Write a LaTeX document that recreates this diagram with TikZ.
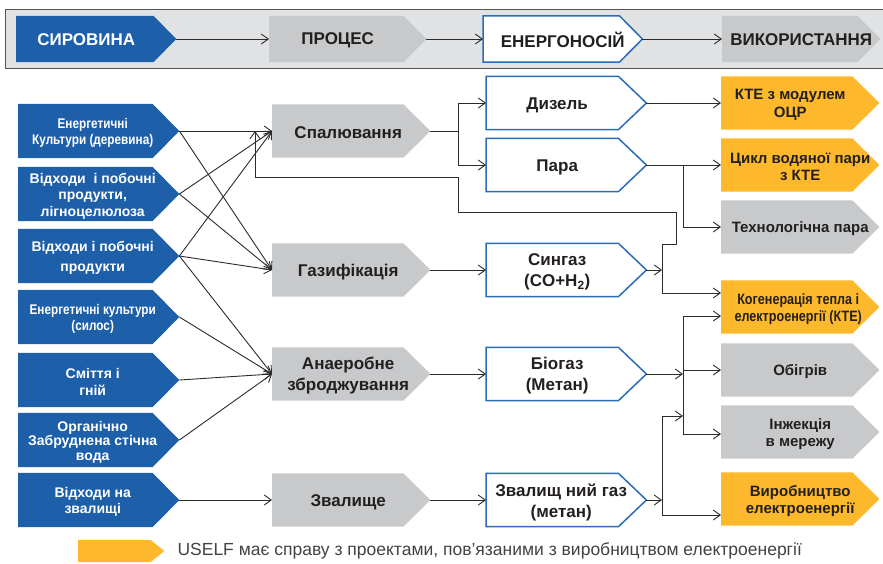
\documentclass[tikz,border=0pt]{standalone}
\usepackage{fontspec}
\setmainfont{Liberation Sans}
\newfontfamily\condfont[FakeStretch=0.84]{Liberation Sans}
\usetikzlibrary{arrows.meta,calc,backgrounds}

\definecolor{rawblue}{HTML}{1E5FAA}
\definecolor{procgray}{HTML}{C8C9CB}
\definecolor{carrblue}{HTML}{2A6CB8}
\definecolor{elecyellow}{HTML}{FDB92B}
\definecolor{headbg}{HTML}{E1E2E4}
\definecolor{headframe}{HTML}{555555}
\definecolor{inkdark}{HTML}{231F20}
\definecolor{wire}{HTML}{2B2B2B}

% outline of an arrow-tag: flat left side, pointed right side
\newcommand\tagoutline[3]{%
  \path[#3] (#1.north west) -- ($(#1.north east)+(-#2,0)$) -- (#1.east)
    -- ($(#1.south east)+(-#2,0)$) -- (#1.south west) -- cycle;}

\tikzset{
  tag/.style={rectangle, inner sep=0pt, anchor=west},
  srcbox/.style={tag, minimum width=161pt, minimum height=54pt},
  procbox/.style={tag, minimum width=158pt, minimum height=53pt},
  carrbox/.style={tag, minimum width=160pt, minimum height=53pt},
  endbox/.style={tag, minimum width=158pt, minimum height=53pt},
  hdrbox/.style={tag, minimum height=46pt},
  lbl/.style={inner sep=0pt, align=center, text=inkdark, yshift=-2pt},
  srclbl/.style={lbl, text=white, xshift=-6pt, font=\bfseries\fontsize{14}{16.5}\selectfont},
  proclbl/.style={lbl, xshift=-3pt, font=\bfseries\fontsize{17}{21}\selectfont},
  carrlbl/.style={lbl, xshift=-9pt, font=\bfseries\fontsize{17}{21}\selectfont},
  endlbl/.style={lbl, font=\bfseries\fontsize{15}{17.5}\selectfont},
  hdrlbl/.style={lbl, yshift=1pt, font=\bfseries\fontsize{17}{20}\selectfont},
  bluefill/.style={fill=rawblue},
  grayfill/.style={fill=procgray},
  yellowfill/.style={fill=elecyellow},
  carrfill/.style={fill=white, draw=carrblue, line width=1.5pt, line join=miter},
  flow/.style={draw=wire, line width=0.9pt, -{Straight Barb[length=7pt,width=10pt]}},
  pipe/.style={draw=wire, line width=0.9pt}
}

\begin{document}
\begin{tikzpicture}[x=1pt,y=-1pt]
\useasboundingbox (0,0) rectangle (883,563);

% header strip
\node[hdrbox, minimum width=160pt, label={[hdrlbl, name=h1t, text=white, xshift=-10pt]center:СИРОВИНА}] (h1) at (16,39) {};
\node[hdrbox, minimum width=157pt, label={[hdrlbl, name=h2t, xshift=-10pt]center:ПРОЦЕС}] (h2) at (269,39) {};
\node[hdrbox, minimum width=159pt, label={[hdrlbl, name=h3t]center:ЕНЕРГОНОСІЙ}] (h3) at (483,39) {};
\node[hdrbox, minimum width=158pt, label={[hdrlbl, name=h4t]center:ВИКОРИСТАННЯ}] (h4) at (722,39) {};
\draw[flow] (h1.east) -- (h2.west);
\draw[flow] (h2.east) -- (h3.west);
\draw[flow] (h3.east) -- (h4.west);

% raw materials
\node[srcbox, label={[srclbl, name=s1t]center:{\condfont Енергетичні\\ \condfont Культури (деревина)}}] (s1) at (18,131) {};
\node[srcbox, label={[srclbl, name=s2t]center:{Відходи \ і побочні\\ продукти,\\ лігноцелюлоза}}] (s2) at (18,194) {};
\node[srcbox, label={[srclbl, name=s3t, font=\bfseries\fontsize{14}{20}\selectfont]center:{Відходи і побочні\\ продукти}}] (s3) at (18,256) {};
\node[srcbox, label={[srclbl, name=s4t]center:{\condfont Енергетичні культури\\ \condfont (силос)}}] (s4) at (18,317) {};
\node[srcbox, label={[srclbl, name=s5t]center:{Сміття і\\ гній}}] (s5) at (18,380) {};
\node[srcbox, label={[srclbl, name=s6t, font=\bfseries\fontsize{14}{14.5}\selectfont]center:{Органічно\\ Забруднена стічна\\ вода}}] (s6) at (18,440) {};
\node[srcbox, label={[srclbl, name=s7t]center:{Відходи на\\ звалищі}}] (s7) at (18,500) {};

% processes
\node[procbox, label={[proclbl, name=p1t]center:Спалювання}] (p1) at (272,131) {};
\node[procbox, label={[proclbl, name=p2t]center:Газифікація}] (p2) at (272,270) {};
\node[procbox, label={[proclbl, name=p3t]center:{Анаеробне\\ зброджування}}] (p3) at (272,374) {};
\node[procbox, label={[proclbl, name=p4t]center:Звалище}] (p4) at (272,500) {};

% energy carriers
\node[carrbox, label={[carrlbl, name=c1t]center:Дизель}] (c1) at (486,103) {};
\node[carrbox, label={[carrlbl, name=c2t]center:Пара}] (c2) at (486,165) {};
\node[carrbox, label={[carrlbl, name=c3t]center:{Сингаз\\ (CO+H\textsubscript{2})}}] (c3) at (486,270) {};
\node[carrbox, label={[carrlbl, name=c4t]center:{Біогаз\\ (Метан)}}] (c4) at (486,374) {};
\node[carrbox, label={[carrlbl, name=c5t, xshift=4pt]center:{Звалищ ний газ\\ (метан)}}] (c5) at (486,500) {};

% uses
\node[endbox, label={[endlbl, name=u1t, xshift=-10pt]center:{КТЕ з модулем\\ ОЦР}}] (u1) at (721,103) {};
\node[endbox, label={[endlbl, name=u2t]center:{Цикл водяної пари\\ з КТЕ}}] (u2) at (721,165) {};
\node[endbox, label={[endlbl, name=u3t]center:Технологічна пара}] (u3) at (721,227) {};
\node[endbox, label={[endlbl, name=u4t, xshift=-2pt]center:{\condfont Когенерація тепла і\\ \condfont електроенергії (КТЕ)}}] (u4) at (721,307) {};
\node[endbox, label={[endlbl, name=u5t]center:Обігрів}] (u5) at (721,370) {};
\node[endbox, label={[endlbl, name=u6t]center:{Інжекція\\ в мережу}}] (u6) at (721,432) {};
\node[endbox, label={[endlbl, name=u7t]center:{Виробництво\\ електроенергії}}] (u7) at (721,499) {};

% legend
\node[tag, minimum width=86pt, minimum height=22pt] (lg) at (78,551) {};
\node[anchor=west, text=inkdark!85, font=\fontsize{17.5}{20}\selectfont] (lgt) at (174,551)
  {USELF має справу з проектами, пов’язаними з виробництвом електроенергії};

% tag shapes behind the texts
\begin{scope}[on background layer]
  \fill[headbg] (5,9) rectangle (883,68);
  \draw[headframe, line width=1pt] (883,9) -- (5,9) -- (5,68) -- (883,68);
  \tagoutline{h1}{23}{bluefill}
  \tagoutline{h2}{23}{grayfill}
  \tagoutline{h3}{23}{carrfill}
  \tagoutline{h4}{23}{grayfill}
  \foreach \n in {s1,s2,s3,s4,s5,s6,s7}{\tagoutline{\n}{27}{bluefill}}
  \foreach \n in {p1,p2,p3,p4}{\tagoutline{\n}{27}{grayfill}}
  \foreach \n in {c1,c2,c3,c4,c5}{\tagoutline{\n}{28}{carrfill}}
  \foreach \n in {u1,u2,u4,u7}{\tagoutline{\n}{27}{yellowfill}}
  \foreach \n in {u3,u5,u6}{\tagoutline{\n}{27}{grayfill}}
  \tagoutline{lg}{14}{yellowfill}
\end{scope}

% raw materials to processes
\draw[flow] (s1.east) -- (p1.west);
\draw[flow] (s1.east) -- (p2.west);
\draw[flow] (s2.east) -- (p1.west);
\draw[flow] (s2.east) -- (p2.west);
\draw[flow] (s3.east) -- (p1.west);
\draw[flow] (s3.east) -- (p2.west);
\draw[flow] (s3.east) -- (p3.west);
\draw[flow] (s4.east) -- (p3.west);
\draw[flow] (s5.east) -- (p3.west);
\draw[flow] (s6.east) -- (p3.west);
\draw[flow] (s7.east) -- (p4.west);

% processes to carriers
\coordinate (jb) at (458,131);
\draw[pipe] (p1.east) -- (jb);
\draw[flow] (jb) |- (c1.west);
\draw[flow] (jb) |- (c2.west);
\draw[flow] (p2.east) -- (c3.west);
\draw[flow] (p3.east) -- (c4.west);
\draw[flow] (p4.east) -- (c5.west);

% carriers to uses
\draw[flow] (c1.east) -- (u1.west);
\draw[flow] (c2.east) -- (u2.west);
\coordinate (jp) at (683,165);
\draw[flow] (jp) |- (u3.west);

% syngas junction, with the return line to combustion
\coordinate (js) at (662,270);
\coordinate (jsTop) at (662,244);
\coordinate (jsBot) at (662,293);
\coordinate (ret) at (255,131);
\draw[flow] (c3.east) -- (js);
\draw[pipe] (jsTop) -- (jsBot);
\draw[flow] (jsTop) -- (676,244) -- (676,212) -- (458,212) -- (458,177) -- (255,177) -- (ret);
\draw[flow] (jsBot) -- (u4.west |- jsBot);

% biogas junction
\coordinate (jg) at (683,374);
\coordinate (jgTop) at (683,316);
\coordinate (jgBot) at (683,434);
\draw[flow] (c4.east) -- (jg);
\draw[pipe] (jgTop) -- (jgBot);
\draw[flow] (jgTop) -- (u4.west |- jgTop);
\draw[flow] (u5.west -| jg) -- (u5.west);
\draw[flow] (jgBot) -- (u6.west |- jgBot);

% landfill gas junction
\coordinate (jl) at (662,500);
\coordinate (jlTop) at (662,416);
\coordinate (jlBot) at (662,515);
\draw[flow] (c5.east) -- (jl);
\draw[pipe] (jlTop) -- (jlBot);
\draw[flow] (jlTop) -- (jg |- jlTop);
\draw[flow] (jlBot) -- (u7.west |- jlBot);
\end{tikzpicture}
\end{document}
